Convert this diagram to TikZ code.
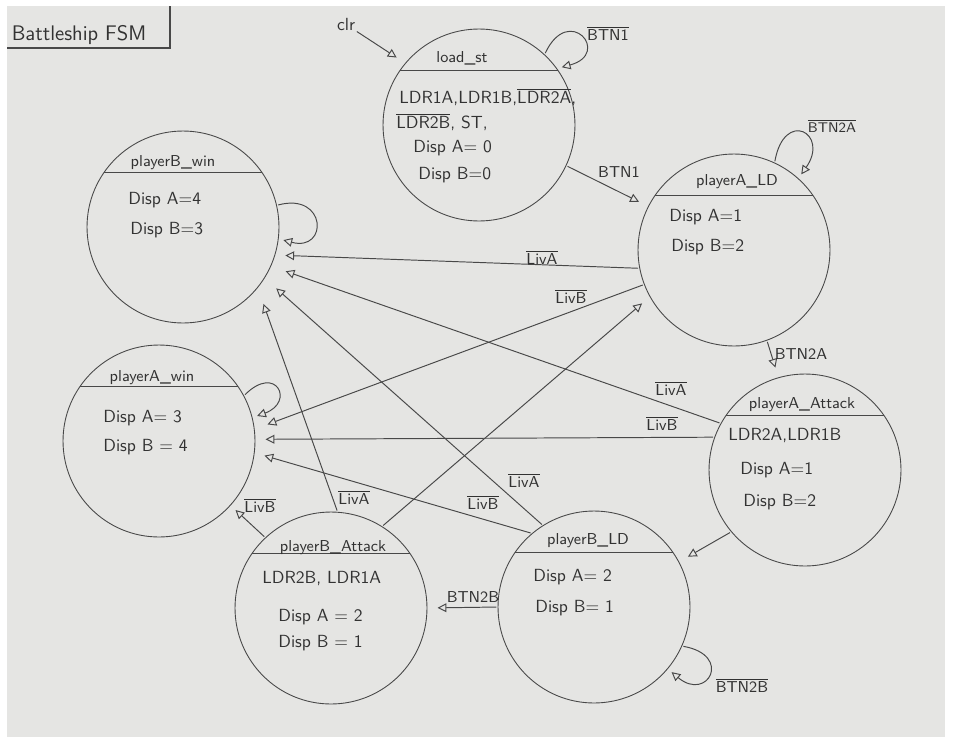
\documentclass[tikz,border=0pt]{standalone}
\usepackage{amsmath}
\usetikzlibrary{arrows.meta,calc}
\renewcommand{\familydefault}{\sfdefault}
\newcommand{\ovl}[1]{$\overline{\mbox{#1}}$}
\definecolor{paper}{RGB}{229,229,227}
\definecolor{pencil}{RGB}{72,72,72}
\definecolor{graphite}{RGB}{50,50,50}

\begin{document}
\begin{tikzpicture}[x=0.02cm,y=-0.02cm,>={Triangle[open,length=5pt,width=5pt]},
    state/.style={circle,draw=pencil,line width=0.5pt,minimum size=3.84cm,inner sep=0pt,outer sep=0pt},
    sttitle/.style={font=\small,text=graphite,inner sep=1pt,anchor=south},
    body/.style={anchor=west,text=graphite,inner sep=0pt},
    lbl/.style={font=\small,text=graphite,inner sep=0pt},
    tr/.style={->,draw=pencil,line width=0.55pt,shorten <=1pt,shorten >=6pt},
    selfloop/.style={->,draw=pencil,line width=0.55pt,shorten <=1pt,shorten >=3pt}]
    \useasboundingbox (0,0) rectangle (953,744);
    \fill[paper] (7,6) rectangle (945,737);
    % --- title box
    \node[font=\large,text=graphite,inner sep=0pt] (ttl) at (79,35) {Battleship FSM};
    \draw[pencil,line width=0.6pt] (7,48) -- (170,48) -- (170,6);
    % --- states
    \node[state] (lds) at (479,125) {};
    \node[state] (pald) at (734,250) {};
    \node[state] (pbwin) at (183,227) {};
    \node[state] (pawin) at (159,441) {};
    \node[state] (paatk) at (805,470) {};
    \node[state] (pbatk) at (331,608) {};
    \node[state] (pbld) at (594,607) {};
    \foreach \s in {lds,pald,pbwin,pawin,paatk,pbatk,pbld}
      {\draw[pencil,line width=0.5pt] (\s.145) -- (\s.35);}
    \node[sttitle] (ldsT) at (462,67) {load\_st};
    \node[sttitle] (paldT) at (737,191) {playerA\_LD};
    \node[sttitle] (pbwinT) at (173,172) {playerB\_win};
    \node[sttitle] (pawinT) at (152,387) {playerA\_win};
    \node[sttitle] (paatkT) at (802,414) {playerA\_Attack};
    \node[sttitle] (pbatkT) at (333,557) {playerB\_Attack};
    \node[sttitle] (pbldT) at (588,550) {playerB\_LD};
    % --- outputs
    \node[body] (lds1) at (399,97) {LDR1A,LDR1B,\ovl{LDR2A},};
    \node[body] (lds2) at (396,122) {\ovl{LDR2B}, ST,};
    \node[body] (lds3) at (413,148) {Disp A= 0};
    \node[body] (lds4) at (418,175) {Disp B=0};
    \node[body] (pald1) at (669,217) {Disp A=1};
    \node[body] (pald2) at (671,247) {Disp B=2};
    \node[body] (pbwin1) at (128,200) {Disp A=4};
    \node[body] (pbwin2) at (130,230) {Disp B=3};
    \node[body] (pawin1) at (103,418) {Disp A= 3};
    \node[body] (pawin2) at (103,447) {Disp B = 4};
    \node[body] (paatk1) at (728,435) {LDR2A,LDR1B};
    \node[body] (paatk2) at (740,470) {Disp A=1};
    \node[body] (paatk3) at (743,502) {Disp B=2};
    \node[body] (pbatk1) at (262,578) {LDR2B, LDR1A};
    \node[body] (pbatk2) at (278,617) {Disp A = 2};
    \node[body] (pbatk3) at (278,643) {Disp B = 1};
    \node[body] (pbld1) at (533,577) {Disp A= 2};
    \node[body] (pbld2) at (535,608) {Disp B= 1};
    % --- reset and self loops
    \node[lbl,font=\normalsize] (clr) at (346,24) {clr};
    \draw[tr] (clr.south east) -- (lds.140);
    \draw[selfloop] (lds.47) to[out=65,in=15,looseness=8] (lds.36);
    \node[lbl] (ldsL) at (608,33) {\ovl{BTN1}};
    \draw[selfloop] (pald.65) to[out=80,in=55,looseness=5] (pald.48);
    \node[lbl,font=\footnotesize] (paldL) at (832,126) {\ovl{BTN2A}};
    \draw[selfloop] (pbwin.13) to[out=15,in=-15,looseness=4] (pbwin.-7);
    \draw[selfloop] (pawin.28) to[out=45,in=20,looseness=5] (pawin.14);
    \draw[selfloop] (pbld.-24) to[out=-10,in=-40,looseness=5] (pbld.-40);
    \node[lbl] (pbldL) at (742,685) {\ovl{BTN2B}};
    % --- load and attack transitions
    \draw[tr] (lds.-25) -- (pald.153);
    \node[lbl] (t1) at (619,172) {BTN1};
    \draw[tr] (pald.-70) -- (paatk.106);
    \node[lbl] (t2) at (801,354) {BTN2A};
    \draw[tr] (paatk.220) -- (pbld.28);
    \draw[tr] (pbld.180) -- (pbatk.0);
    \node[lbl] (t3) at (473,597) {BTN2B};
    \draw[tr] (pbatk.58) -- (pald.209);
    % --- wins
    \draw[tr] (pald.191) -- (pbwin.-17);
    \node[lbl] (wa1) at (542,257) {\ovl{LivA}};
    \draw[tr,shorten >=9pt] (paatk.151) -- (pbwin.-24);
    \node[lbl] (wa2) at (671,388) {\ovl{LivA}};
    \draw[tr,shorten >=9pt] (pbld.122) -- (pbwin.-32);
    \node[lbl] (wa3) at (524,480) {\ovl{LivA}};
    \draw[tr,shorten >=10pt] (pbatk.86) -- (pbwin.-39);
    \node[lbl] (wa4) at (354,497) {\ovl{LivA}};
    \draw[tr,shorten >=8pt] (pald.201) -- (pawin.7);
    \node[lbl] (wb1) at (571,296) {\ovl{LivB}};
    \draw[tr] (paatk.160) -- (pawin.1);
    \node[lbl] (wb2) at (662,423) {\ovl{LivB}};
    \draw[tr] (pbld.130) -- (pawin.-7);
    \node[lbl] (wb3) at (483,502) {\ovl{LivB}};
    \draw[tr,shorten >=4pt] (pbatk.133) -- (pawin.-42);
    \node[lbl] (wb4) at (260,505) {\ovl{LivB}};
\end{tikzpicture}
\end{document}
